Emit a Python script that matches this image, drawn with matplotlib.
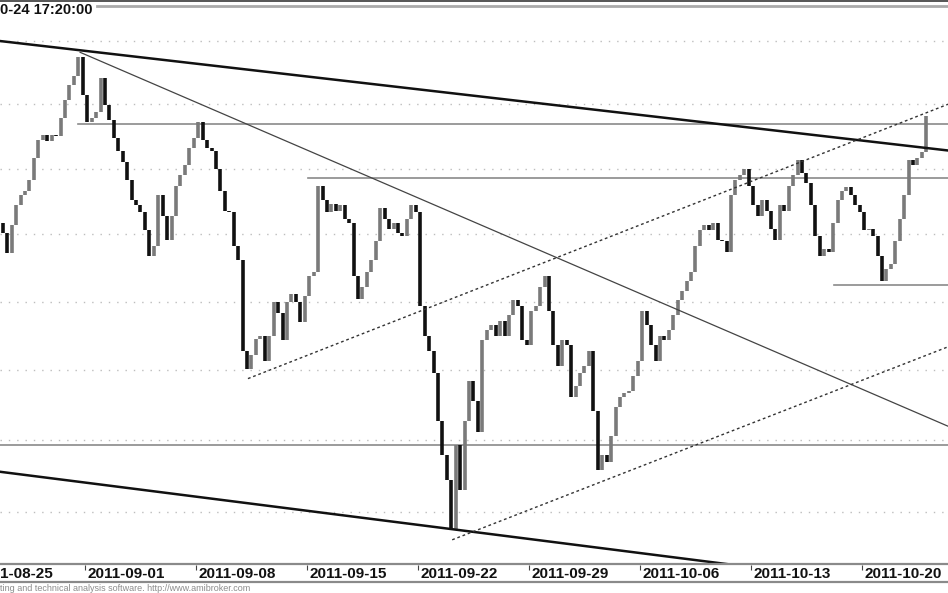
import numpy as np
import pandas as pd
import matplotlib
matplotlib.use('Agg')
import matplotlib.pyplot as plt
from matplotlib.lines import Line2D

plt.rcParams['font.family'] = ['Liberation Sans', 'DejaVu Sans']

# trading sessions, 5 bars per session; data starts on 2011-08-26
sessions = pd.bdate_range('2011-08-25', '2011-10-24')
bars_per_day = 5
first_bar = bars_per_day

open0 = 2405
close = [
    2409, 2401, 2386, 2407, 2422, 2430, 2433, 2441, 2458, 2472,
    2476, 2471, 2476, 2475, 2489, 2503, 2515, 2522, 2537, 2507,
    2486, 2489, 2494, 2521, 2499, 2488, 2474, 2464, 2455, 2441,
    2426, 2422, 2417, 2403, 2384, 2391, 2430, 2414, 2396, 2414,
    2437, 2445, 2453, 2466, 2474, 2486, 2472, 2466, 2464, 2450,
    2433, 2418, 2417, 2391, 2381, 2314, 2301, 2311, 2323, 2325,
    2307, 2325, 2350, 2342, 2322, 2350, 2356, 2350, 2335, 2354,
    2369, 2372, 2437, 2426, 2417, 2423, 2418, 2422, 2412, 2409,
    2369, 2352, 2361, 2372, 2381, 2395, 2420, 2412, 2404, 2409,
    2401, 2399, 2412, 2422, 2417, 2347, 2325, 2314, 2298, 2264,
    2240, 2222, 2188, 2247, 2215, 2264, 2292, 2278, 2256, 2322,
    2329, 2333, 2325, 2336, 2325, 2340, 2351, 2347, 2322, 2318,
    2343, 2347, 2361, 2369, 2343, 2318, 2303, 2322, 2318, 2281,
    2289, 2298, 2303, 2314, 2271, 2229, 2240, 2235, 2253, 2274,
    2281, 2284, 2285, 2296, 2307, 2343, 2333, 2318, 2307, 2325,
    2322, 2329, 2340, 2351, 2358, 2365, 2372, 2391, 2403, 2407,
    2403, 2409, 2396, 2395, 2387, 2430, 2441, 2445, 2450, 2437,
    2422, 2414, 2426, 2418, 2404, 2396, 2422, 2418, 2437, 2445,
    2457, 2447, 2439, 2422, 2399, 2384, 2389, 2387, 2409, 2426,
    2433, 2436, 2430, 2422, 2417, 2403, 2404, 2399, 2384, 2365,
    2374, 2378, 2395, 2412, 2430, 2457, 2453, 2458, 2463, 2491,
]

label_dates = ['2011-08-25', '2011-09-01', '2011-09-08', '2011-09-15', '2011-09-22',
               '2011-09-29', '2011-10-06', '2011-10-13', '2011-10-20']
grid_levels = [2200, 2250, 2300, 2350, 2400, 2450, 2500, 2550]

# drawn studies: (bar, price) end points
thick_lines = [((5.86, 2550), (219.4, 2464)), ((5.86, 2228), (219.4, 2145.5))]
thin_lines = [((23.9, 2541), (219.4, 2260))]
dotted_lines = [((61.7, 2294), (219.4, 2500)), ((107.7, 2181), (219.4, 2317))]
level_lines = [(23.4, 2484.5), (75.2, 2443), (0, 2246.5), (193.7, 2362)]

title_text = '0-24 17:20:00'
footer_text = 'ting and technical analysis software. http://www.amibroker.com'

W, H = 948, 593
fig = plt.figure(figsize=(W / 100, H / 100), dpi=100)
ax = fig.add_axes([0, (H - 563) / H, 1, 563 / H])
ax.set_yscale('log')
ax.set_xlim(5.856, 219.37)
ax.set_ylim(2165.2, 2583.0)
ax.set_axis_off()

for g in grid_levels:
    ax.axhline(g, color='#bdbdbd', lw=1, ls=(0, (1, 5)), zorder=1)

close = np.array(close, dtype=float)
opens = np.r_[open0, close[:-1]]
u = first_bar + np.arange(len(close)) + 0.5
up = close >= opens
ax.vlines(u[up], opens[up], close[up], color='#7a7a7a', lw=2.6, zorder=3)
ax.vlines(u[~up], opens[~up], close[~up], color='#111111', lw=2.6, zorder=3)

for (x0, y0), (x1, y1) in thick_lines:
    ax.plot([x0, x1], [y0, y1], color='#111111', lw=1.8, zorder=4)
for (x0, y0), (x1, y1) in thin_lines:
    ax.plot([x0, x1], [y0, y1], color='#444444', lw=0.9, zorder=4)
for (x0, y0), (x1, y1) in dotted_lines:
    ax.plot([x0, x1], [y0, y1], color='#333333', lw=1.0, ls=(0, (2, 2)), zorder=4)
for x0, lvl in level_lines:
    ax.plot([x0, 230], [lvl, lvl], color='#8a8a8a', lw=1.2, zorder=2)

# date band
ax2 = fig.add_axes([0, (H - 583) / H, 1, 20 / H])
xmin, xmax = ax.get_xlim()
ax2.set_xlim(xmin, xmax)
ax2.set_ylim(0, 1)
ax2.set_axis_off()
for d in label_dates:
    s = sessions.get_loc(pd.Timestamp(d)) * bars_per_day
    if s < xmin:
        # label of a week that starts left of the window: only its tail shows
        ax2.text(0.0, 0.45, d[3:], transform=ax2.transAxes, ha='left', va='center',
                 fontsize=11, weight='bold', color='#111111')
        continue
    ax2.vlines(s, 0.65, 0.9, color='#444444', lw=0.8)
    ax2.annotate(d, xy=(s, 0.45), xytext=(3, 0), textcoords='offset pixels',
                 ha='left', va='center', fontsize=11, weight='bold',
                 color='#111111', annotation_clip=False)

fig.add_artist(Line2D([0, 1], [(H - 563.5) / H] * 2, color='#8a8a8a', lw=1.6))
fig.add_artist(Line2D([0, 1], [(H - 582) / H] * 2, color='#8a8a8a', lw=1.6))
fig.add_artist(Line2D([0, 1], [(H - 0.8) / H] * 2, color='#555555', lw=1.4))
fig.add_artist(Line2D([97 / W, 1], [(H - 6) / H] * 2, color='#aaaaaa', lw=2.0))

fig.text(0.5 / W, (H - 10) / H, title_text, ha='left', va='center',
         fontsize=10.5, weight='bold', color='#111111')
fig.text(0.5 / W, (H - 588.5) / H, footer_text, ha='left', va='center',
         fontsize=6.5, color='#8c8c8c')

fig.savefig('out.png', dpi=100)
